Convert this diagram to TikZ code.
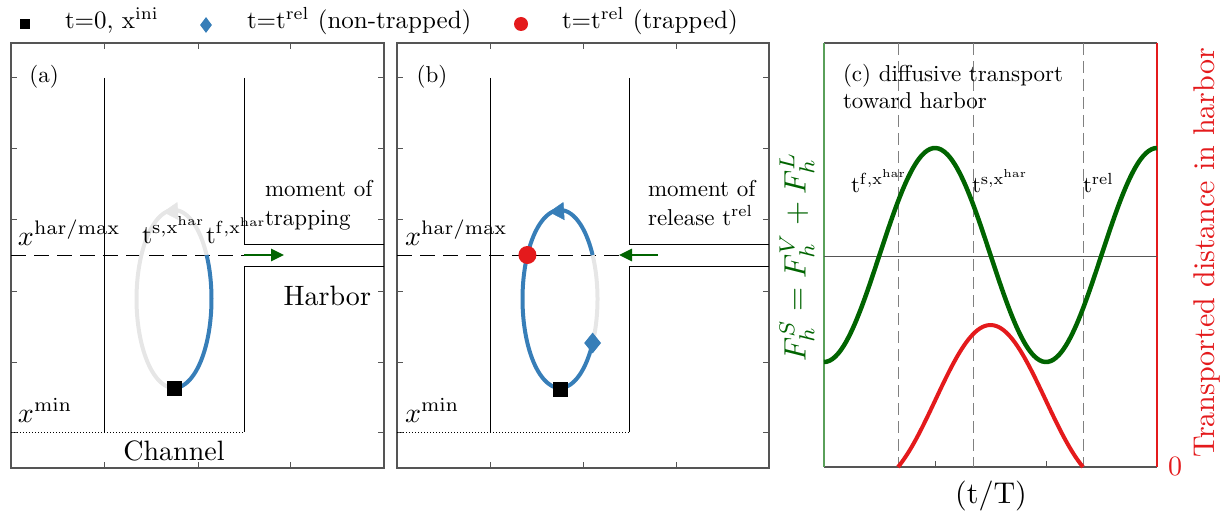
\documentclass[tikz,border=0pt]{standalone}
\usetikzlibrary{arrows.meta,shapes.geometric}
\definecolor{myblue}{HTML}{377EB8}
\definecolor{myred}{HTML}{E41A1C}
\definecolor{mygreen}{HTML}{006400}
\definecolor{lgreen}{HTML}{5AA05A}
\definecolor{lgray}{HTML}{E6E6E6}
\definecolor{axgray}{HTML}{555555}
\begin{document}
\begin{tikzpicture}[x=1pt,y=-1pt,
  box/.style={draw=axgray, line width=1.2pt},
  wall/.style={draw=black, line width=0.9pt},
  tickmark/.style={draw=axgray, line width=1pt},
  hdash/.style={draw=black, line width=1pt, dash pattern=on 15pt off 8pt},
  vdash/.style={draw=gray, line width=0.9pt, dash pattern=on 12pt off 6pt},
  txt/.style={inner sep=0pt, outer sep=0pt},
  fs/.style={scale=#1/10},
  garrow/.style={draw=mygreen, line width=2.6pt, -{Triangle[length=13pt,width=12pt]}},
  orbit/.style={line width=4pt, line cap=butt},
  headarrow/.style={line width=0.5pt, -{Triangle[length=15pt,width=18pt]}},
  sqmark/.style={fill=black, minimum size=15pt, inner sep=0pt},
  dmmark/.style={fill=myblue, shape=diamond, minimum width=17pt, minimum height=21pt, inner sep=0pt},
  ccmark/.style={fill=myred, circle, minimum size=18pt, inner sep=0pt}
]
\useasboundingbox (0,0) rectangle (1223,513);

% ---------------- legend ----------------
\node[fill=black, minimum size=10pt, inner sep=0pt] (legsq) at (25,24) {};
\node[txt, fs=25, anchor=base west] (legsqt) at (65,29) {t=0, x$^{\mathrm{ini}}$};
\node[fill=myblue, shape=diamond, minimum width=12pt, minimum height=16pt, inner sep=0pt] (legdm) at (206,25) {};
\node[txt, fs=25, anchor=base west] (legdmt) at (247,29) {t=t$^{\mathrm{rel}}$ (non-trapped)};
\node[fill=myred, circle, minimum size=14pt, inner sep=0pt] (legcc) at (521,24) {};
\node[txt, fs=25, anchor=base west] (legcct) at (562,29) {t=t$^{\mathrm{rel}}$ (trapped)};

% ---------------- panel (a) ----------------
\draw[box] (11,43) rectangle (384,468);
\foreach \x in {104,198,290} {
  \draw[tickmark] (\x,468) -- ++(0,-6);
  \draw[tickmark] (\x,43) -- ++(0,6);
}
\foreach \y in {78,149,220,291,362,432} {
  \draw[tickmark] (11,\y) -- ++(6,0);
  \draw[tickmark] (384,\y) -- ++(-6,0);
}
\draw[wall] (104,78) -- (104,432);
\draw[wall] (244,78) -- (244,244) -- (384,244);
\draw[wall] (384,266) -- (244,266) -- (244,432);
\draw[dotted, line width=1pt] (11,432) -- (244,432);
\draw[hdash] (11,255) -- (244,255);
\coordinate (aas) at (244,255);
\coordinate (aae) at (284,255);
\draw[garrow] (aas) -- (aae);

% orbit (a)
\draw[orbit, lgray] plot[domain=29.6:270, samples=90, smooth] ({174+37.5*cos(\x)},{299-89*sin(\x)});
\draw[orbit, myblue] plot[domain=-90:29.6, samples=50, smooth] ({174+37.5*cos(\x)},{299-89*sin(\x)});
\coordinate (ahb) at (179,211);
\coordinate (aht) at (163,212);
\draw[headarrow, lgray] (ahb) -- (aht);
\node[sqmark] (asq) at (174,388) {};

\node[txt, fs=23] (alab) at (44,77) {(a)};
\node[txt, fs=28, anchor=base west] (ahar) at (18,245) {$x^{\mathrm{har/max}}$};
\node[txt, fs=28, anchor=base west] (amin) at (18,422) {$x^{\mathrm{min}}$};
\node[txt, fs=28, anchor=base] (achan) at (174,460) {Channel};
\node[txt, fs=28, anchor=base east] (aharb) at (371,305) {Harbor};
\node[txt, fs=23, anchor=base west] (amom1) at (265,197) {moment of};
\node[txt, fs=23, anchor=base west] (amom2) at (265,225) {trapping};
\node[txt, fs=26, anchor=base west] (ats) at (142,243) {t$^{\mathrm{s,x^{har}}}$};
\node[txt, fs=25, anchor=base west] (atf) at (206,243) {t$^{\mathrm{f,x^{har}}}$};

% ---------------- panel (b) ----------------
\draw[box] (397,43) rectangle (769,468);
\foreach \x in {490,583,676} {
  \draw[tickmark] (\x,468) -- ++(0,-6);
  \draw[tickmark] (\x,43) -- ++(0,6);
}
\foreach \y in {78,149,220,291,362,432} {
  \draw[tickmark] (397,\y) -- ++(6,0);
  \draw[tickmark] (769,\y) -- ++(-6,0);
}
\draw[wall] (490,78) -- (490,432);
\draw[wall] (629,78) -- (629,244) -- (769,244);
\draw[wall] (769,266) -- (629,266) -- (629,432);
\draw[dotted, line width=1pt] (397,432) -- (629,432);
\draw[hdash] (397,255) -- (629,255);
\coordinate (bas) at (658,255);
\coordinate (bae) at (619,255);
\draw[garrow] (bas) -- (bae);

% orbit (b)
\draw[orbit, lgray] plot[domain=-29.6:29.6, samples=30, smooth] ({560+37.5*cos(\x)},{299-89*sin(\x)});
\draw[orbit, myblue] plot[domain=29.6:270, samples=90, smooth] ({560+37.5*cos(\x)},{299-89*sin(\x)});
\draw[orbit, myblue] plot[domain=-90:-29.6, samples=30, smooth] ({560+37.5*cos(\x)},{299-89*sin(\x)});
\coordinate (bhb) at (565,211);
\coordinate (bht) at (549,212);
\draw[headarrow, myblue] (bhb) -- (bht);
\node[sqmark] (bsq) at (560,389) {};
\node[dmmark] (bdm) at (592.6,343) {};
\node[ccmark] (bcc) at (527.4,255) {};

\node[txt, fs=23] (blab) at (432,77) {(b)};
\node[txt, fs=28, anchor=base west] (bhar) at (405,245) {$x^{\mathrm{har/max}}$};
\node[txt, fs=28, anchor=base west] (bmin) at (405,422) {$x^{\mathrm{min}}$};
\node[txt, fs=23, anchor=base west] (bmom1) at (648,197) {moment of};
\node[txt, fs=23, anchor=base west] (bmom2) at (648,225) {release t$^{\mathrm{rel}}$};

% ---------------- panel (c) ----------------
\draw[draw=axgray, line width=1.2pt] (824,43) -- (1157,43);
\draw[draw=axgray, line width=1.2pt] (824,467) -- (1157,467);
\draw[draw=lgreen, line width=1.4pt] (824,43) -- (824,467);
\draw[draw=myred, line width=1.2pt] (1157,43) -- (1157,467);
\foreach \x in {935,1046} {
  \draw[tickmark] (\x,467) -- ++(0,-6);
}
\draw[draw=axgray, line width=0.9pt] (824,256) -- (1157,256);
\foreach \x in {898,973,1083} {
  \draw[vdash] (\x,43) -- (\x,467);
}
\draw[mygreen, line width=4.5pt] plot[domain=0:333, samples=120, smooth] ({824+\x},{255+107*cos(1.621622*\x)});
\draw[myred, line width=4pt] plot[domain=0:185, samples=80, smooth] ({898+\x},{467-142*(0.5*sin(0.972973*\x)+0.5*sin(0.972973*\x)*sin(0.972973*\x))});

\node[txt, fs=23, anchor=base west] (ctitle1) at (843,82) {(c) diffusive transport};
\node[txt, fs=23, anchor=base west] (ctitle2) at (843,109) {toward harbor};
\node[txt, fs=23, anchor=base west] (ctf) at (851,193) {t$^{\mathrm{f,x^{har}}}$};
\node[txt, fs=23, anchor=base west] (cts) at (972,193) {t$^{\mathrm{s,x^{har}}}$};
\node[txt, fs=23, anchor=base west] (ctr) at (1083,193) {t$^{\mathrm{rel}}$};
\node[txt, fs=30, anchor=base] (cx) at (991,503) {(t/T)};
\node[txt, fs=31, rotate=90, text=mygreen] (cyl) at (797,257) {$F_h^S = F_h^V + F_h^L$};
\node[txt, fs=30, rotate=90, text=myred] (cyr) at (1207,253) {Transported distance in harbor};
\node[txt, fs=28, text=myred] (czero) at (1175,466) {0};
\end{tikzpicture}
\end{document}
